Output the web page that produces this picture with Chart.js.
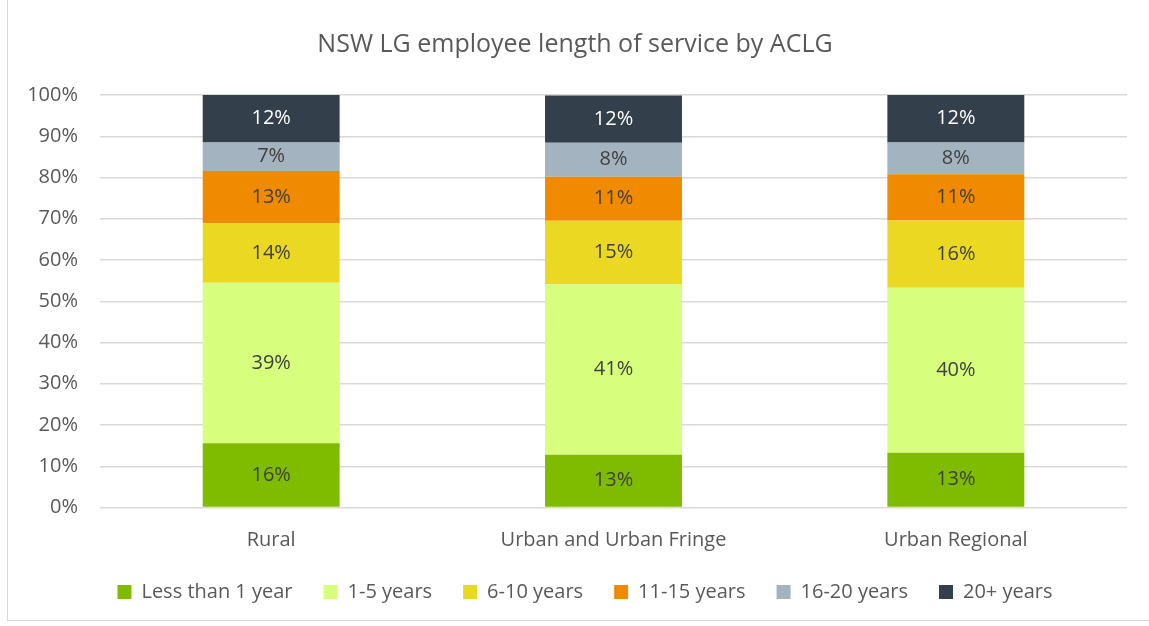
<!DOCTYPE html>
<html>
<head>
<meta charset="utf-8">
<script src="https://cdn.jsdelivr.net/npm/chart.js@4/dist/chart.umd.min.js"></script>
<style>
  body { margin: 0; background: #fff; }
  #wrap { position: relative; width: 1149px; height: 626px; overflow: hidden; }
  #frame { position: absolute; left: 7px; top: -2px; width: 1150px; height: 623px; border: 1px solid #d9d9d9; box-sizing: border-box; }
  canvas { position: absolute; left: 0; top: 0; }
</style>
</head>
<body>
<div id="wrap">
  <div id="frame"></div>
  <canvas id="chart" width="1149" height="626"></canvas>
</div>
<script>
const categories = ["Rural", "Urban and Urban Fringe", "Urban Regional"];
const seriesNames = ["Less than 1 year", "1-5 years", "6-10 years", "11-15 years", "16-20 years", "20+ years"];
const lessThan1 = [15.6, 12.8, 13.3];
const years1to5 = [38.9, 41.3, 40.0];
const years6to10 = [14.4, 15.4, 16.3];
const years11to15 = [12.7, 10.7, 11.2];
const years16to20 = [6.9, 8.2, 7.7];
const years20plus = [11.5, 11.5, 11.5];
const yTicks = [0, 10, 20, 30, 40, 50, 60, 70, 80, 90, 100];

const colors = ["#7fbc00", "#d7fe7c", "#ebd823", "#f08a00", "#a4b3c0", "#333f4a"];
const labelColors = ["#404040", "#404040", "#404040", "#404040", "#404040", "#ffffff"];
const FONT = "'Open Sans'";

const seriesValues = [lessThan1, years1to5, years6to10, years11to15, years16to20, years20plus];

// draws the rounded % in the middle of every segment
const segmentLabels = {
  id: "segmentLabels",
  afterDatasetsDraw(chart) {
    const ctx = chart.ctx;
    ctx.save();
    ctx.font = "20px " + FONT;
    ctx.textAlign = "center";
    ctx.textBaseline = "middle";
    chart.data.datasets.forEach((ds, i) => {
      const meta = chart.getDatasetMeta(i);
      meta.data.forEach((bar, j) => {
        ctx.fillStyle = labelColors[i];
        ctx.fillText(Math.round(ds.data[j]) + "%", bar.x, (bar.y + bar.base) / 2);
      });
    });
    ctx.restore();
  }
};

// nudge the legend so it sits where the original puts it
const legendShift = {
  id: "legendShift",
  afterLayout(chart) {
    chart.legend.left += 10;
    chart.legend.right += 10;
    chart.legend.top -= 1;
    chart.legend.bottom -= 1;
  }
};

new Chart(document.getElementById("chart"), {
  type: "bar",
  data: {
    labels: categories,
    datasets: seriesNames.map((name, i) => ({
      label: name,
      data: seriesValues[i],
      backgroundColor: colors[i],
      borderWidth: 0,
      barPercentage: 0.4,
      categoryPercentage: 1
    }))
  },
  options: {
    responsive: false,
    animation: false,
    layout: { padding: { left: 23, right: 22, top: 0, bottom: 13 } },
    plugins: {
      title: {
        display: true,
        text: "NSW LG employee length of service by ACLG",
        color: "#595959",
        font: { family: FONT, size: 25, weight: "normal" },
        padding: { top: 30, bottom: 35 }
      },
      legend: {
        position: "bottom",
        labels: {
          color: "#595959",
          font: { family: FONT, size: 20 },
          boxWidth: 14,
          boxHeight: 14,
          padding: 31
        }
      },
      tooltip: { enabled: false }
    },
    scales: {
      x: {
        stacked: true,
        grid: { display: false, drawTicks: false },
        border: { display: false },
        ticks: { color: "#595959", font: { family: FONT, size: 20 }, padding: 20.5 },
        afterFit(scale) {
          scale.height = 44.5;
        }
      },
      y: {
        stacked: true,
        min: 0,
        max: 100,
        afterBuildTicks(scale) {
          scale.ticks = yTicks.map(v => ({ value: v }));
        },
        afterFit(scale) {
          scale.width = 77;
        },
        grid: { color: "#d9d9d9", lineWidth: 1.5, drawTicks: false },
        border: { display: false },
        ticks: {
          color: "#595959",
          font: { family: FONT, size: 20 },
          padding: 22,
          callback: v => v + "%"
        }
      }
    }
  },
  plugins: [segmentLabels, legendShift]
});
</script>
</body>
</html>
